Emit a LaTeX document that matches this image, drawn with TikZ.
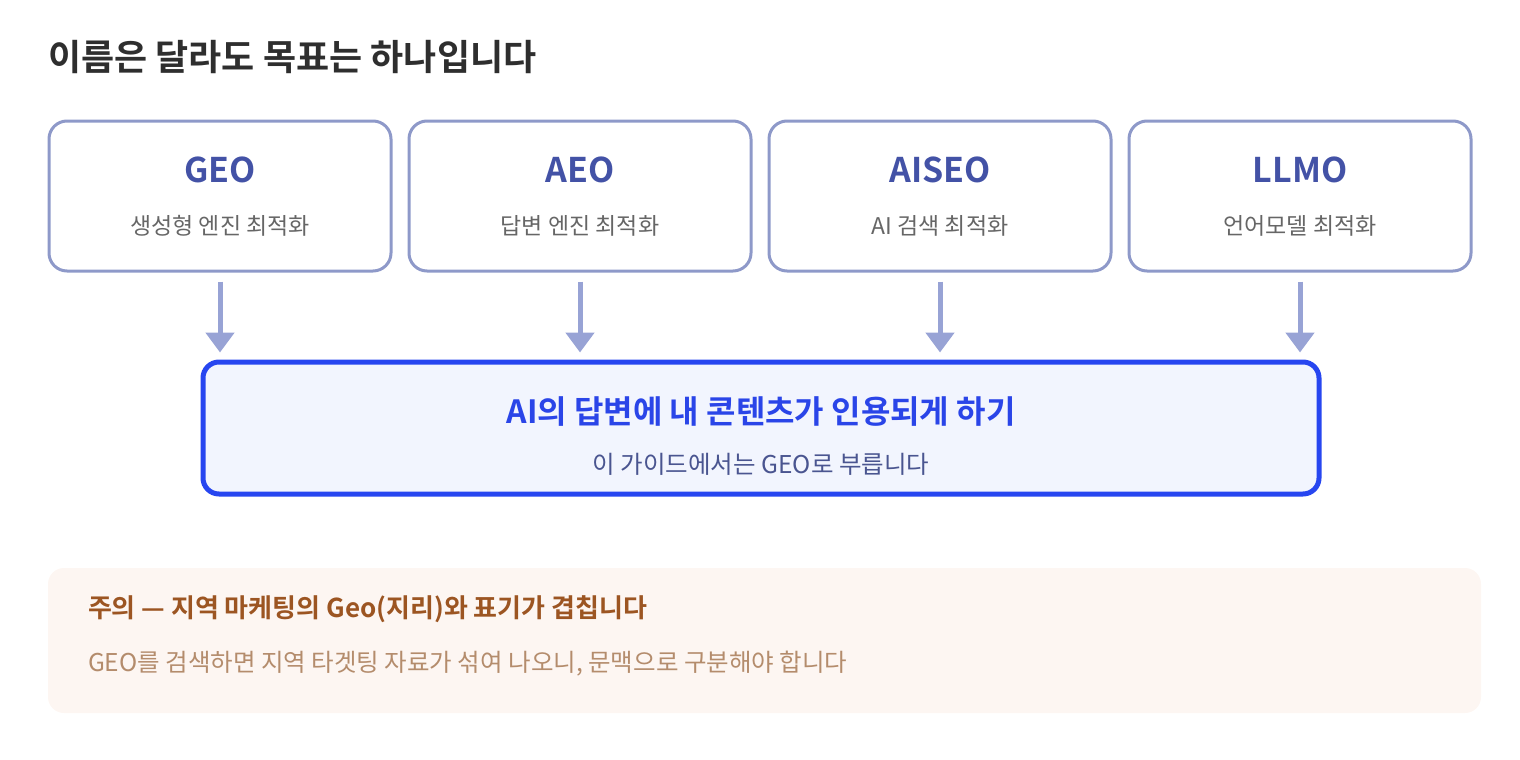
\documentclass[tikz,border=0pt]{standalone}
\usepackage{fontspec}
\setmainfont{Noto Sans CJK KR}[BoldFont={Noto Sans CJK KR Bold}]
\usetikzlibrary{positioning,arrows.meta}

\definecolor{headgray}{HTML}{2E2E2E}
\definecolor{termline}{HTML}{8E99C9}
\definecolor{termname}{HTML}{4352A6}
\definecolor{termsub}{HTML}{666666}
\definecolor{flowblue}{HTML}{98A3D5}
\definecolor{goalline}{HTML}{2746F0}
\definecolor{goalfill}{HTML}{F2F5FE}
\definecolor{goaltext}{HTML}{2A45E8}
\definecolor{goalsub}{HTML}{4A5590}
\definecolor{notefill}{HTML}{FDF6F2}
\definecolor{notehead}{HTML}{9C5522}
\definecolor{notesub}{HTML}{B48C6C}

\tikzset{
    termbox/.style={draw=termline, line width=3pt, rounded corners=18pt, minimum width=342pt, minimum height=150pt, inner sep=0pt},
    termname/.style={text=termname, font=\fontsize{34}{40}\selectfont\bfseries, inner sep=0pt},
    termsub/.style={text=termsub, font=\fontsize{23}{28}\selectfont, inner sep=0pt},
    flow/.style={draw=flowblue, line width=5pt, -{Triangle[width=28pt,length=20pt]}, shorten >=7pt},
    goalbox/.style={draw=goalline, fill=goalfill, line width=5pt, rounded corners=16pt, minimum width=1116pt, minimum height=132pt, inner sep=0pt},
    notebox/.style={fill=notefill, rounded corners=16pt, minimum width=1433pt, minimum height=145pt, inner sep=0pt}
}

\begin{document}
\begin{tikzpicture}[x=1pt,y=-1pt]

    \useasboundingbox (0,0) rectangle (1520,760); % page size
    \node[anchor=west, inner sep=0pt, text=headgray, font=\fontsize{36}{42}\selectfont\bfseries] (head) at (48,57) {이름은 달라도 목표는 하나입니다}; % heading

    \node[termbox] (geo) at (220,196) {}; % first term box
    \node[termbox, right=15pt of geo] (aeo) {}; % second term box
    \node[termbox, right=15pt of aeo] (aiseo) {}; % third term box
    \node[termbox, right=15pt of aiseo] (llmo) {}; % fourth term box

    \node[termname] (geo-name) at ([yshift=26pt]geo.center) {GEO};
    \node[termsub] (geo-sub) at ([yshift=-30pt]geo.center) {생성형 엔진 최적화};
    \node[termname] (aeo-name) at ([yshift=26pt]aeo.center) {AEO};
    \node[termsub] (aeo-sub) at ([yshift=-30pt]aeo.center) {답변 엔진 최적화};
    \node[termname] (aiseo-name) at ([yshift=26pt]aiseo.center) {AISEO};
    \node[termsub] (aiseo-sub) at ([yshift=-30pt]aiseo.center) {AI 검색 최적화};
    \node[termname] (llmo-name) at ([yshift=26pt]llmo.center) {LLMO};
    \node[termsub] (llmo-sub) at ([yshift=-30pt]llmo.center) {언어모델 최적화};

    \node[goalbox] (goal) at (761,428) {}; % common goal box
    \node[text=goaltext, inner sep=0pt, font=\fontsize{32}{38}\selectfont\bfseries] (goal-name) at ([yshift=16pt]goal.center) {AI의 답변에 내 콘텐츠가 인용되게 하기};
    \node[text=goalsub, inner sep=0pt, font=\fontsize{24.5}{29}\selectfont] (goal-sub) at ([yshift=-36pt]goal.center) {이 가이드에서는 GEO로 부릅니다};

    \foreach \t in {geo,aeo,aiseo,llmo}
        \draw[flow] ([yshift=-9pt]\t.south) -- (\t.south |- goal.north); % term -> goal

    \node[notebox] (note) at (764.5,640.5) {}; % caution box
    \node[anchor=west, inner sep=0pt, text=notehead, font=\fontsize{26}{31}\selectfont\bfseries] (note-head) at ([xshift=40pt, yshift=31.5pt]note.west) {주의 — 지역 마케팅의 Geo(지리)와 표기가 겹칩니다};
    \node[anchor=west, inner sep=0pt, text=notesub, font=\fontsize{24.5}{29}\selectfont] (note-sub) at ([xshift=40pt, yshift=-23.5pt]note.west) {GEO를 검색하면 지역 타겟팅 자료가 섞여 나오니, 문맥으로 구분해야 합니다};

\end{tikzpicture}
\end{document}
